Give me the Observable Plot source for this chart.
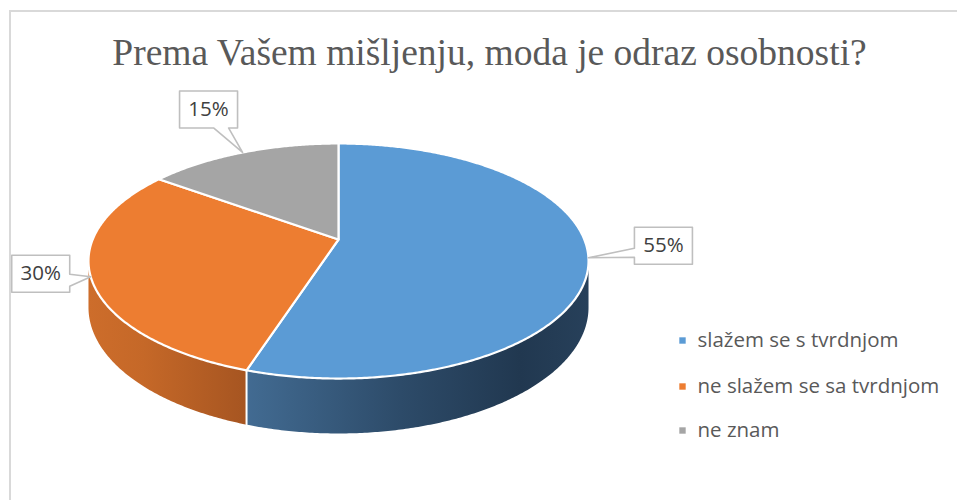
<!DOCTYPE html>
<html>
<head>
<meta charset="utf-8">
<script src="https://cdn.jsdelivr.net/npm/d3@7"></script>
<script src="https://cdn.jsdelivr.net/npm/@observablehq/plot@0.6"></script>
<style>
  html, body { margin: 0; padding: 0; background: #fff; overflow: hidden; }
  #wrap { position: relative; width: 957px; height: 500px; }
  #border { position: absolute; left: 9px; top: 10px; width: 2000px; height: 2000px;
            border: 2px solid #d9d9d9; pointer-events: none; }
</style>
</head>
<body>
<div id="wrap"><div id="border"></div></div>
<script>
// ---- data ----
const title = "Prema Vašem mišljenju, moda je odraz osobnosti?";
const categories = ["slažem se s tvrdnjom", "ne slažem se sa tvrdnjom", "ne znam"];
const values = [55, 30, 15];
const labels = ["55%", "30%", "15%"];

// ---- style / layout ----
const topColors = ["#5b9bd5", "#ed7d31", "#a5a5a5"];
const wallStops = [
  [[0, "#426b92"], [0.45, "#2d4b69"], [0.8, "#213850"], [1, "#27405a"]],
  [[0, "#cd6d2b"], [0.35, "#c56828"], [1, "#a65521"]],
  [[0, "#8a8a8a"], [1, "#6a6a6a"]]
];
const A = 245.8, B = 113.6;          // px per unit (x, y)
const CX = 338, CY = 239;            // pie centre in px
const W = 957, H = 500;
const persp = 0.183;                  // perspective strength
const depth = 0.395;                  // wall height in y-units
// callout box centre offsets from the anchor (px), and tail geometry
const callouts = [
  {dx: 75, dy: -12, side: "left", t1: 21, t2: 30},
  {dx: -50, dy: -3, side: "right", t1: 19, t2: 31},
  {dx: -34, dy: -43, side: "bottom", t1: 34, t2: 49}
];
const boxW = 58, boxH = 37;
const legendX = 682, legendTextX = 697, legendY = [340, 386, 430];
const sansFont = "Open Sans";

// ---- geometry from data ----
const total = d3.sum(values);
const ux = px => px / A, uy = py => py / B;
function proj(a, d = 0) {
  const u = Math.sin(a), v = -Math.cos(a), s = 1 / (1 - persp * v);
  return {x: u * s, y: (v + d) * s};
}
let acc = 0;
const slices = values.map((v, i) => {
  const a0 = acc / total * 2 * Math.PI; acc += v;
  const a1 = acc / total * 2 * Math.PI;
  return {i, a0, a1, mid: (a0 + a1) / 2};
});
const arc = (a0, a1, d = 0) => {
  const n = Math.max(2, Math.ceil((a1 - a0) / (Math.PI / 360)));
  return d3.range(n + 1).map(j => proj(a0 + (a1 - a0) * j / n, d));
};
const aR = Math.acos(-persp), aL = 2 * Math.PI - Math.acos(-persp);

const walls = [];
slices.forEach(s => {
  const b0 = Math.max(s.a0, aR), b1 = Math.min(s.a1, aL);
  if (b1 > b0) walls.push({i: s.i, pts: [...arc(b0, b1, 0), ...arc(b0, b1, depth).reverse()]});
});
const seps = [];
slices.forEach(s => {
  if (s.a0 > aR && s.a0 < aL) seps.push({i: s.i, pts: [proj(s.a0, 0), proj(s.a0, depth)]});
});
const tops = slices.map(s => ({i: s.i, pts: [{x: 0, y: 0}, ...arc(s.a0, s.a1)]}));

const boxes = slices.map(s => {
  const an = proj(s.mid);
  const ax = CX + an.x * A, ay = CY + an.y * B;   // anchor in px
  const c = callouts[s.i];
  const L = ax + c.dx - boxW / 2, T = ay + c.dy - boxH / 2, R = L + boxW, Bm = T + boxH;
  let p;
  if (c.side === "bottom")
    p = [[L, T], [R, T], [R, Bm], [L + c.t2, Bm], [ax, ay], [L + c.t1, Bm], [L, Bm]];
  else if (c.side === "right")
    p = [[L, T], [R, T], [R, T + c.t1], [ax, ay], [R, T + c.t2], [R, Bm], [L, Bm]];
  else
    p = [[L, T], [R, T], [R, Bm], [L, Bm], [L, T + c.t2], [ax, ay], [L, T + c.t1]];
  return {i: s.i, label: labels[s.i], pts: p.map(([x, y]) => ({x: ux(x - CX), y: uy(y - CY)})),
          cx: ux(ax + c.dx - CX), cy: uy(ay + c.dy - CY)};
});
const legend = categories.map((c, i) => ({c, i, x: ux(legendX - CX), tx: ux(legendTextX - CX), y: uy(legendY[i] - CY)}));

const defsMark = () => {
  const defs = d3.create("svg:defs");
  wallStops.forEach((stops, i) => {
    const g = defs.append("linearGradient").attr("id", "wall" + i)
      .attr("x1", 0).attr("x2", 1).attr("y1", 0).attr("y2", 0);
    stops.forEach(([o, c]) => g.append("stop").attr("offset", o).attr("stop-color", c));
  });
  return defs.node();
};

const chart = Plot.plot({
  width: W, height: H,
  marginTop: 0, marginRight: 0, marginBottom: 0, marginLeft: 0,
  x: {domain: [ux(-CX), ux(W - CX)], range: [0, W], axis: null},
  y: {domain: [uy(-CY), uy(H - CY)], range: [0, H], axis: null},
  style: {background: "transparent", overflow: "visible"},
  marks: [
    defsMark,
    ...walls.map(w => Plot.line(w.pts, {x: "x", y: "y", fill: `url(#wall${w.i})`, stroke: "none", curve: "linear-closed"})),
    ...seps.map(s => Plot.line(s.pts, {x: "x", y: "y", stroke: "white", strokeWidth: 2})),
    ...tops.map(t => Plot.line(t.pts, {x: "x", y: "y", fill: topColors[t.i], stroke: "white", strokeWidth: 2.2, strokeLinejoin: "round", curve: "linear-closed"})),
    ...boxes.map(b => Plot.line(b.pts, {x: "x", y: "y", fill: "white", stroke: "#bfbfbf", strokeWidth: 1.6, curve: "linear-closed"})),
    Plot.text(boxes, {x: "cx", y: "cy", text: "label", fontFamily: sansFont, fontSize: 20.5, fill: "#404040"}),
    Plot.text([title], {x: ux(489 - CX), y: uy(52 - CY), text: d => d, fontFamily: "Liberation Serif", fontSize: 37.5, fill: "#595959"}),
    Plot.dot(legend, {x: "x", y: "y", symbol: "square", r: 3.6, fill: d => topColors[d.i], stroke: null}),
    Plot.text(legend, {x: "tx", y: "y", text: "c", textAnchor: "start", fontFamily: sansFont, fontSize: 20.5, fill: "#595959"})
  ]
});
document.getElementById("wrap").appendChild(chart);
</script>
</body>
</html>
